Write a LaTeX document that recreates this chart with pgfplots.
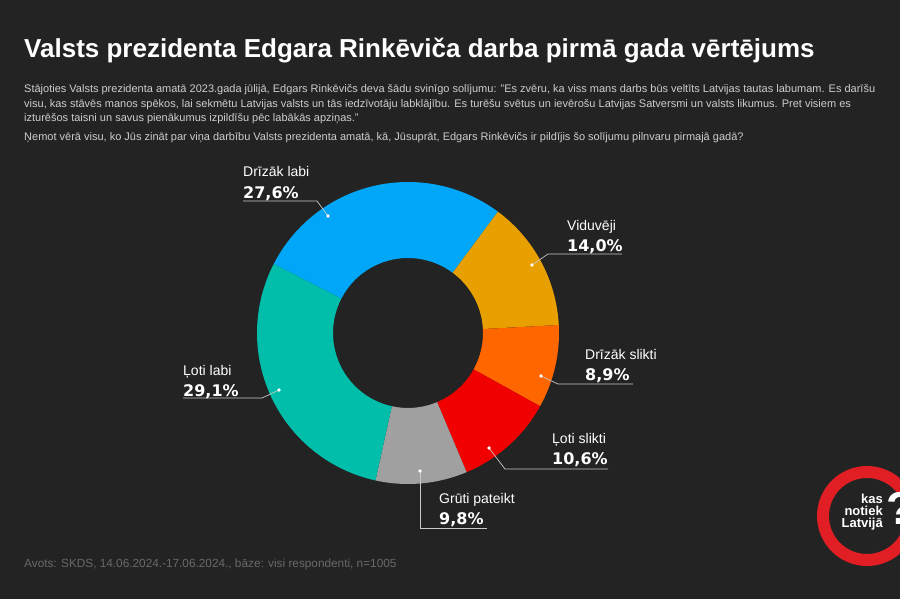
\documentclass[border=0pt]{standalone}
\usepackage{fontspec}
\setmainfont{Liberation Sans}
\newfontfamily\pctfont{DejaVu Sans}
\usepackage{pgfplots}
\pgfplotsset{compat=1.18}

\definecolor{bgdark}{RGB}{35,35,35}
\definecolor{subgray}{RGB}{205,205,205}
\definecolor{srcgray}{RGB}{105,105,105}
\definecolor{leader}{RGB}{200,200,200}
\definecolor{cBlue}{RGB}{0,166,247}
\definecolor{cGold}{RGB}{232,160,0}
\definecolor{cOrange}{RGB}{255,102,0}
\definecolor{cRed}{RGB}{240,0,0}
\definecolor{cGray}{RGB}{160,160,160}
\definecolor{cTeal}{RGB}{0,190,170}
\definecolor{logored}{RGB}{225,30,36}

% donut: centre (408,333) px, outer r 151, inner r 75, first slice starts at 152.8 deg, clockwise
\newcommand\cur{152.8}
\newcommand\slice[2]{% share in %, colour
  \pgfmathsetmacro\sa{\cur}%
  \pgfmathsetmacro\ea{\cur-3.6*#1}%
  \edef\tmp{\noexpand\fill[#2] (axis cs:408,333) ++(\sa:151pt)
    arc[start angle=\sa, end angle=\ea, radius=151pt] -- ++(\ea:-76pt)
    arc[start angle=\ea, end angle=\sa, radius=75pt] -- cycle;}%
  \tmp
  \global\let\cur\ea
}
% label: dot x,y / elbow x,y / line end x / text x / name baseline / name / pct
\newcommand\lbl[9]{%
  \draw[leader, line width=0.7pt] (axis cs:#1,#2) -- (axis cs:#3,#4) -- (axis cs:#5,#4);
  \fill[white] (axis cs:#1,#2) circle[radius=1.8pt];
  \node[anchor=base west, inner sep=0pt, font=\fontsize{14}{16}\selectfont, text=white] at (axis cs:#6,#7) {#8};
  \node[anchor=base west, inner sep=0pt, font=\pctfont\bfseries\fontsize{16}{18}\selectfont, text=white] at (axis cs:#6,#7+21) {#9};
}

\begin{document}
\begin{tikzpicture}
\begin{axis}[
  width=900pt, height=599pt, scale only axis,
  xmin=0, xmax=900, ymin=0, ymax=599, y dir=reverse,
  axis lines=none, clip=false,
  axis background/.style={fill=bgdark},
]
% title and intro
\node[anchor=base west, inner sep=0pt, font=\bfseries\fontsize{26}{28}\selectfont, text=white]
  at (axis cs:24,58) {Valsts prezidenta Edgara Rinkēviča darba pirmā gada vērtējums};
\node[anchor=base west, inner sep=0pt, font=\fontsize{11}{13}\selectfont, text=subgray]
  at (axis cs:24,93) {Stājoties Valsts prezidenta amatā 2023.gada jūlijā, Edgars Rinkēvičs deva šādu svinīgo solījumu: "Es zvēru, ka viss mans darbs būs veltīts Latvijas tautas labumam. Es darīšu};
\node[anchor=base west, inner sep=0pt, font=\fontsize{11}{13}\selectfont, text=subgray]
  at (axis cs:24,108) {visu, kas stāvēs manos spēkos, lai sekmētu Latvijas valsts un tās iedzīvotāju labklājību. Es turēšu svētus un ievērošu Latvijas Satversmi un valsts likumus. Pret visiem es};
\node[anchor=base west, inner sep=0pt, font=\fontsize{11}{13}\selectfont, text=subgray]
  at (axis cs:24,122) {izturēšos taisni un savus pienākumus izpildīšu pēc labākās apziņas."};
\node[anchor=base west, inner sep=0pt, font=\fontsize{11}{13}\selectfont, text=subgray]
  at (axis cs:24,141) {Ņemot vērā visu, ko Jūs zināt par viņa darbību Valsts prezidenta amatā, kā, Jūsuprāt, Edgars Rinkēvičs ir pildījis šo solījumu pilnvaru pirmajā gadā?};

% donut slices, clockwise from "Drīzāk labi"
\slice{27.6}{cBlue}   % Drīzāk labi
\slice{14.0}{cGold}   % Viduvēji
\slice{8.9}{cOrange}  % Drīzāk slikti
\slice{10.6}{cRed}    % Ļoti slikti
\slice{9.8}{cGray}    % Grūti pateikt
\slice{29.1}{cTeal}   % Ļoti labi

% labels
\lbl{328}{216}{317}{201}{243}{243}{177}{Drīzāk labi}{27,6\%}
\lbl{532}{265}{548}{254}{622}{567}{230}{Viduvēji}{14,0\%}
\lbl{541}{376}{558}{384}{633}{585}{359}{Drīzāk slikti}{8,9\%}
\lbl{489}{448}{505}{469}{608}{552}{443}{Ļoti slikti}{10,6\%}
\lbl{420}{471}{420}{528}{487}{439}{503}{Grūti pateikt}{9,8\%}
\lbl{279}{390}{262}{398}{183}{183}{375}{Ļoti labi}{29,1\%}

% source
\node[anchor=base west, inner sep=0pt, font=\fontsize{11.8}{13}\selectfont, text=srcgray]
  at (axis cs:24,567) {Avots: SKDS, 14.06.2024.-17.06.2024., bāze: visi respondenti, n=1005};

% logo
\draw[logored, line width=12pt] (axis cs:867,516) circle[radius=44pt];
\node[anchor=east, align=right, inner sep=0pt, font=\bfseries\fontsize{13}{12}\selectfont, text=white]
  at (axis cs:883,512) {kas\\notiek\\Latvijā};
\node[anchor=west, inner sep=0pt, font=\bfseries\fontsize{46}{46}\selectfont, text=white]
  at (axis cs:886,508) {?};
\end{axis}
\pgfresetboundingbox
\useasboundingbox (current axis.south west) rectangle (current axis.north east);
\end{tikzpicture}
\end{document}
